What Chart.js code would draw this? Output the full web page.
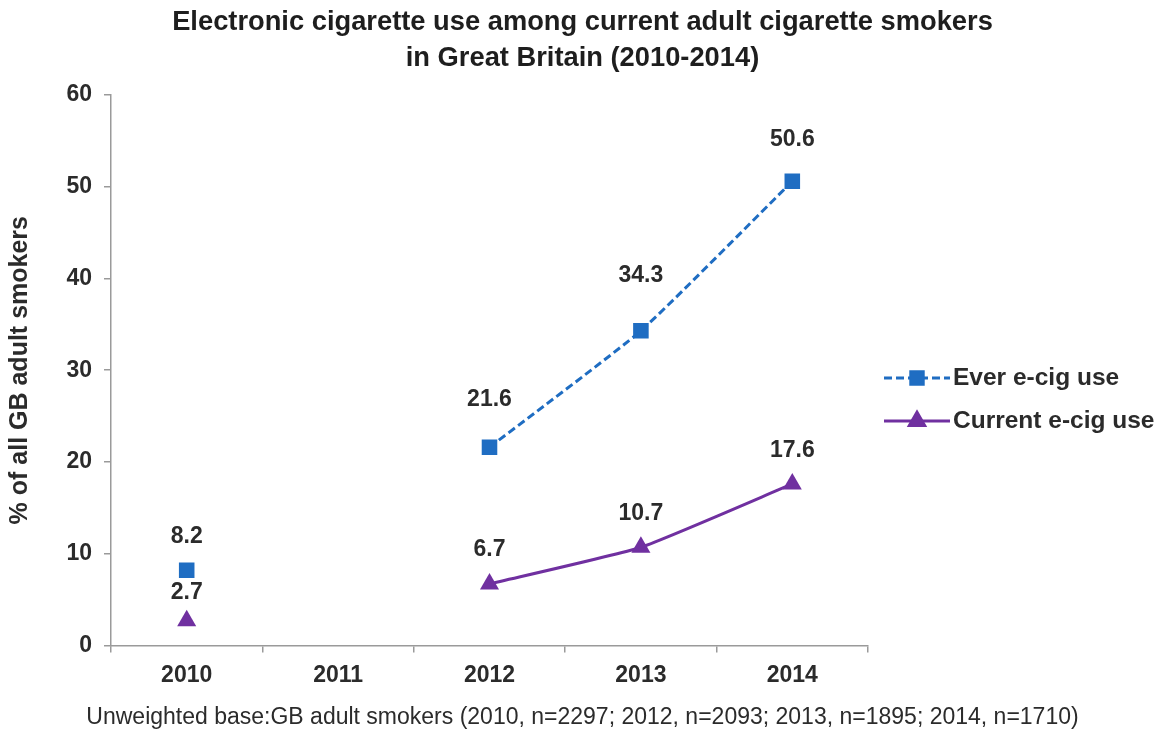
<!DOCTYPE html>
<html>
<head>
<meta charset="utf-8">
<title>E-cigarette use among smokers</title>
<script src="https://cdn.jsdelivr.net/npm/chart.js@4/dist/chart.umd.min.js"></script>
<style>
  html, body { margin: 0; padding: 0; background: #fff; }
  #wrap { width: 1165px; height: 731px; }
</style>
</head>
<body>
<div id="wrap"><canvas id="ecigChart" width="1165" height="731"></canvas></div>
<script>
const years = ['2010', '2011', '2012', '2013', '2014'];
const everUse = [8.2, null, 21.6, 34.3, 50.6];
const currentUse = [2.7, null, 6.7, 10.7, 17.6];
const seriesNames = ['Ever e-cig use', 'Current e-cig use'];
const titleLines = ['Electronic cigarette use among current adult cigarette smokers', 'in Great Britain (2010-2014)'];
const footnote = 'Unweighted base:GB adult smokers (2010, n=2297; 2012, n=2093; 2013, n=1895; 2014, n=1710)';

const BLUE = '#1f6dc2';
const PURPLE = '#7030a0';
const AXIS = '#9a9a9a';
const TEXT = '#2b2b2b';
const FONT = "'Liberation Sans', Arial, sans-serif";

// value labels above each point
const pointLabels = {
    id: 'pointLabels',
    afterDatasetsDraw(chart, args, opts) {
        const ctx = chart.ctx;
        ctx.save();
        ctx.font = 'bold 23px ' + FONT;
        ctx.fillStyle = TEXT;
        ctx.textAlign = 'center';
        ctx.textBaseline = 'middle';
        chart.data.datasets.forEach((ds, i) => {
            const meta = chart.getDatasetMeta(i);
            meta.data.forEach((pt, j) => {
                const v = ds.data[j];
                if (v === null) return;
                const off = opts.offsets[i][j];
                ctx.fillText(v.toFixed(1), pt.x, pt.y - off);
            });
        });
        ctx.restore();
    }
};

// legend on the right: line sample with marker, then the name
const sideLegend = {
    id: 'sideLegend',
    afterDraw(chart, args, opts) {
        const ctx = chart.ctx;
        const x0 = chart.chartArea.right + opts.gap;
        ctx.save();
        chart.data.datasets.forEach((ds, i) => {
            const y = opts.top + i * opts.spacing;
            ctx.strokeStyle = ds.borderColor;
            ctx.lineWidth = ds.borderWidth;
            ctx.setLineDash(ds.borderDash || []);
            ctx.beginPath();
            ctx.moveTo(x0, y);
            ctx.lineTo(x0 + opts.lineLength, y);
            ctx.stroke();
            ctx.setLineDash([]);
            Chart.helpers.drawPoint(ctx, {
                pointStyle: ds.pointStyle,
                radius: ds.pointRadius * 0.8,
                borderWidth: 1
            }, x0 + opts.lineLength / 2, y);
            ctx.fillStyle = ds.pointBackgroundColor;
            ctx.fill();
            ctx.fillStyle = TEXT;
            ctx.font = 'bold 24.5px ' + FONT;
            ctx.textAlign = 'left';
            ctx.textBaseline = 'middle';
            ctx.fillText(seriesNames[i], x0 + opts.lineLength + 3, y);
        });
        ctx.restore();
    }
};

const ctx = document.getElementById('ecigChart').getContext('2d');

new Chart(ctx, {
    type: 'line',
    data: {
        labels: years,
        datasets: [{
            label: seriesNames[0],
            data: everUse,
            borderColor: BLUE,
            borderWidth: 3,
            borderDash: [8, 4],
            pointStyle: 'rect',
            pointRadius: 11,
            pointBackgroundColor: BLUE,
            pointBorderColor: BLUE,
            pointBorderWidth: 0,
            tension: 0.15,
            spanGaps: false
        }, {
            label: seriesNames[1],
            data: currentUse,
            borderColor: PURPLE,
            borderWidth: 3,
            pointStyle: 'triangle',
            pointRadius: 11,
            pointBackgroundColor: PURPLE,
            pointBorderColor: PURPLE,
            pointBorderWidth: 0,
            tension: 0.15,
            spanGaps: false
        }]
    },
    options: {
        responsive: false,
        animation: false,
        layout: { padding: { top: 4, left: 0, right: 0, bottom: 0 } },
        plugins: {
            legend: { display: false },
            tooltip: { enabled: false },
            title: {
                display: true,
                text: titleLines,
                color: '#1e1e1e',
                font: { family: FONT, size: 27.3, weight: 'bold', lineHeight: 1.32 },
                padding: { top: 0, bottom: 19 }
            },
            subtitle: {
                display: true,
                position: 'bottom',
                text: footnote,
                color: TEXT,
                font: { family: FONT, size: 23, weight: 'normal', lineHeight: 1.2 },
                padding: { top: 0, bottom: 0 }
            },
            pointLabels: {
                offsets: [[34, 0, 48, 55, 42], [28, 0, 34, 34, 33]]
            },
            sideLegend: { gap: 16, lineLength: 66, top: 378, spacing: 43 }
        },
        scales: {
            x: {
                offset: true,
                grid: { display: true, drawOnChartArea: false, tickLength: 7, color: AXIS, lineWidth: 1.5, offset: true },
                border: { display: true, color: AXIS, width: 1.5 },
                ticks: { color: TEXT, padding: 9, font: { family: FONT, size: 23, weight: 'bold' } },
                afterFit(scale) { scale.height = 58; }
            },
            y: {
                min: 0,
                max: 60,
                grid: { display: true, drawOnChartArea: false, tickLength: 7, color: AXIS, lineWidth: 1.5 },
                border: { display: true, color: AXIS, width: 1.5 },
                ticks: { stepSize: 10, color: TEXT, padding: 12, font: { family: FONT, size: 23, weight: 'bold' } },
                title: {
                    display: true,
                    text: '% of all GB adult smokers',
                    color: TEXT,
                    font: { family: FONT, size: 25, weight: 'bold' },
                    padding: { top: 5, bottom: 0 }
                },
                afterFit(scale) { scale.width = 111; }
            },
            // keeps room on the right for the legend
            side: {
                type: 'linear',
                position: 'right',
                display: true,
                ticks: { display: false },
                grid: { display: false },
                border: { display: false },
                afterFit(scale) { scale.width = 297; }
            }
        }
    },
    plugins: [pointLabels, sideLegend]
});
</script>
</body>
</html>
